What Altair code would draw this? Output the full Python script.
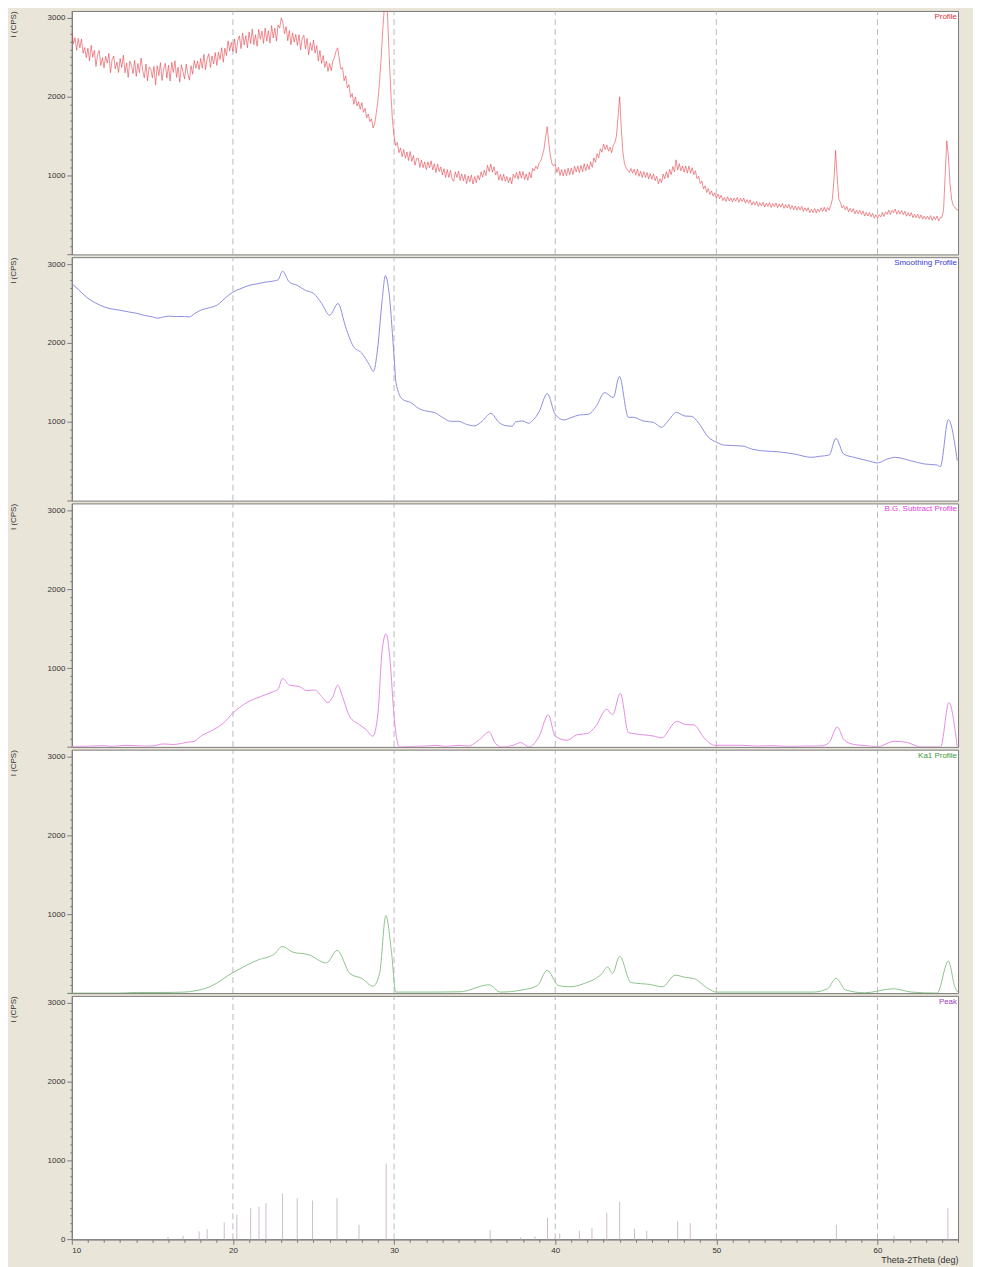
import altair as alt
import pandas as pd

# ---------------- data ----------------
RAW_START = 10.0
RAW_STEP = 0.1
RAW = [
    2835, 2675, 2747, 2588, 2739, 2620, 2731, 2552, 2624, 2495,
    2616, 2454, 2652, 2500, 2587, 2385, 2535, 2586, 2396, 2497,
    2367, 2512, 2426, 2551, 2305, 2470, 2517, 2354, 2441, 2308,
    2485, 2371, 2527, 2303, 2429, 2245, 2451, 2398, 2294, 2461,
    2257, 2422, 2306, 2491, 2335, 2240, 2416, 2202, 2379, 2355,
    2241, 2385, 2150, 2394, 2268, 2432, 2206, 2350, 2423, 2236,
    2400, 2199, 2438, 2307, 2456, 2245, 2375, 2185, 2405, 2315,
    2225, 2413, 2292, 2210, 2393, 2287, 2460, 2361, 2453, 2344,
    2485, 2361, 2537, 2343, 2479, 2545, 2372, 2518, 2415, 2561,
    2398, 2566, 2473, 2621, 2438, 2616, 2522, 2708, 2583, 2689,
    2575, 2734, 2553, 2712, 2771, 2610, 2808, 2656, 2774, 2622,
    2820, 2674, 2858, 2662, 2786, 2640, 2854, 2728, 2833, 2677,
    2871, 2704, 2837, 2680, 2902, 2745, 2870, 2705, 2910, 2870,
    3000, 2940, 2800, 2890, 2711, 2840, 2660, 2810, 2695, 2790,
    2650, 2787, 2595, 2742, 2780, 2607, 2740, 2532, 2684, 2587,
    2719, 2554, 2649, 2453, 2588, 2423, 2523, 2373, 2452, 2322,
    2422, 2330, 2450, 2500, 2580, 2620, 2480, 2350, 2370, 2202,
    2265, 2114, 2153, 1992, 2040, 1904, 1998, 1882, 1936, 1840,
    1924, 1803, 1852, 1732, 1781, 1683, 1720, 1605, 1660, 1800,
    1950, 2200, 2500, 2850, 3150, 3400, 3000, 2500, 2050, 1700,
    1500, 1380, 1420, 1290, 1350, 1240, 1330, 1220, 1300, 1190,
    1305, 1180, 1255, 1130, 1215, 1220, 1103, 1197, 1100, 1173,
    1076, 1173, 1099, 1186, 1072, 1149, 1037, 1144, 1052, 1109,
    1007, 1087, 977, 1076, 976, 1066, 956, 926, 1046, 976,
    1056, 938, 1020, 933, 1015, 898, 994, 920, 1006, 892,
    988, 910, 1003, 945, 1048, 980, 1070, 1000, 1130, 1050,
    1147, 1044, 1111, 1008, 1055, 943, 1014, 935, 1016, 927,
    988, 907, 976, 895, 1020, 968, 1040, 953, 1055, 968,
    1050, 950, 1020, 941, 1046, 970, 1090, 1060, 1120, 1085,
    1160, 1180, 1250, 1330, 1480, 1620, 1420, 1250, 1150, 1120,
    1144, 1040, 1105, 1001, 1077, 993, 1080, 997, 1093, 1010,
    1097, 1013, 1120, 1046, 1122, 1036, 1128, 1049, 1151, 1062,
    1144, 1075, 1175, 1105, 1225, 1169, 1280, 1225, 1340, 1295,
    1400, 1330, 1390, 1310, 1360, 1290, 1380, 1420, 1500, 1750,
    2000, 1600, 1300, 1150, 1100, 1070, 1040, 1090, 1030, 1080,
    1005, 1080, 990, 1055, 975, 1050, 975, 1040, 957, 1025,
    953, 1020, 935, 990, 895, 960, 910, 1020, 960, 1050,
    970, 1080, 1012, 1115, 1047, 1199, 1070, 1150, 1060, 1120,
    1043, 1122, 1031, 1120, 1029, 1100, 1010, 1060, 963, 990,
    900, 930, 830, 870, 785, 835, 760, 805, 740, 780,
    712, 765, 707, 750, 682, 724, 672, 730, 678, 717,
    666, 715, 674, 723, 662, 712, 670, 715, 650, 695,
    648, 691, 624, 670, 627, 673, 610, 656, 613, 662,
    601, 650, 609, 658, 597, 646, 605, 653, 592, 641,
    600, 647, 584, 632, 589, 636, 573, 620, 567, 614,
    561, 607, 563, 609, 545, 591, 547, 593, 529, 573,
    529, 582, 524, 577, 539, 592, 545, 598, 541, 594,
    560, 620, 700, 950, 1320, 980, 700, 660, 590, 620,
    565, 608, 541, 585, 538, 581, 516, 561, 516, 561,
    506, 551, 486, 532, 487, 532, 477, 522, 458, 503,
    458, 506, 474, 533, 481, 539, 508, 562, 506, 560,
    529, 575, 510, 556, 511, 557, 503, 548, 484, 530,
    485, 530, 465, 510, 465, 510, 455, 501, 448, 486,
    445, 484, 443, 492, 431, 480, 439, 488, 425, 470,
    470, 560, 1000, 1440, 1250, 900, 700, 620, 600, 570,
    560,
]

SMOOTH_X = [10.0, 10.5, 11.0, 11.5, 12.0, 12.5, 13.0, 13.5, 14.0, 14.5, 15.0, 15.3, 15.7,
            16.0, 16.5, 17.0, 17.3, 17.6, 18.0, 18.5, 19.0, 19.5, 20.0, 20.5, 21.0, 21.5,
            22.0, 22.5, 22.8, 23.08, 23.5, 24.0, 24.5, 25.0, 25.5, 26.0, 26.52, 26.99,
            27.48, 27.98, 28.47, 28.72, 28.97, 29.26, 29.46, 29.67, 30.0, 30.12, 30.53,
            31.03, 31.52, 32.0, 32.5, 33.0, 33.5, 34.0, 34.49, 34.98, 35.48, 36.01, 36.5,
            37.0, 37.33, 37.54, 37.99, 38.36, 38.57, 38.98, 39.51, 40.0, 40.54, 41.04,
            41.49, 42.03, 42.56, 43.06, 43.61, 43.98, 44.54, 44.85, 45.47, 46.09, 46.6,
            47.0, 47.53, 48.05, 48.46, 48.87, 49.5, 50.0, 50.5, 51.65, 52.2, 52.8, 53.8,
            54.85, 55.9, 56.4, 57.0, 57.42, 57.9, 58.55, 59.4, 60.0, 60.6, 61.1, 62.05,
            62.9, 63.7, 63.9, 64.4, 64.95]
SMOOTH_Y = [2755, 2660, 2566, 2505, 2457, 2430, 2415, 2395, 2377, 2350, 2331, 2314, 2330,
            2340, 2335, 2335, 2330, 2370, 2415, 2445, 2478, 2566, 2645, 2690, 2730, 2750,
            2771, 2785, 2800, 2910, 2771, 2730, 2667, 2629, 2503, 2352, 2500, 2205,
            1954, 1874, 1723, 1639, 1912, 2541, 2855, 2667, 1828, 1497, 1283,
            1245, 1170, 1136, 1119, 1057, 1006, 1006, 968, 948, 1010, 1107, 993,
            948, 944, 998, 1010, 981, 1010, 1119, 1358, 1094, 1023, 1057,
            1086, 1094, 1199, 1371, 1308, 1576, 1057, 1057, 1010, 993, 930,
            1010, 1119, 1073, 1069, 993, 805, 742, 704, 692, 654, 633, 620,
            591, 549, 562, 578, 789, 591, 549, 507, 478, 528, 549, 507,
            465, 452, 431, 1027, 507]

BG_X = [10.0, 11.0, 12.0, 12.5, 13.3, 13.8, 14.5, 15.0, 15.7, 16.3, 17.15, 17.6, 18.0,
        18.8, 19.4, 20.0, 20.86, 21.7, 22.5, 22.8, 23.08, 23.5, 24.15, 24.57, 25.08,
        25.5, 25.9, 26.2, 26.5, 26.8, 27.24, 27.86, 28.27, 28.68, 29.0, 29.26, 29.5,
        29.75, 30.0, 30.33, 31.0, 32.0, 32.6, 33.2, 34.04, 34.6, 35.3, 35.9, 36.3,
        36.7, 37.4, 37.85, 38.37, 39.0, 39.57, 40.0, 40.74, 41.36, 41.98, 42.5, 43.2,
        43.56, 44.04, 44.55, 45.38, 46.2, 46.6, 47.54, 48.16, 48.57, 49.3, 49.9,
        51.56, 52.5, 53.5, 54.44, 55.5, 56.5, 57.0, 57.5, 57.94, 58.56, 59.3, 60.0,
        61.03, 61.86, 62.68, 63.92, 64.43, 64.95]
BG_Y = [5, 8, 15, 5, 20, 16, 10, 12, 37, 30, 58, 70, 134,
        218, 300, 428, 562, 637, 700, 730, 868, 784, 763, 713, 721,
        640, 562, 637, 784, 637, 386, 281, 218, 134, 428, 1225, 1435,
        1100, 386, 0, 5, 10, 20, 5, 20, 10, 92, 190, 40,
        0, 20, 54, 0, 134, 407, 134, 84, 155, 168, 260, 478,
        407, 680, 180, 155, 134, 113, 323, 281, 281, 100, 20,
        20, 10, 15, 5, 10, 12, 54, 252, 84, 30, 15, 0,
        71, 54, 0, 0, 562, 0]

KA1_X = [10.0, 12.9, 14.0, 15.6, 17.0, 17.6, 18.6, 20.0, 21.5, 22.6, 23.05, 23.7, 24.7,
         25.8, 26.47, 27.26, 28.0, 28.7, 29.1, 29.49, 29.85, 30.1, 32.6, 34.1, 35.9,
         36.6, 38.0, 38.9, 39.5, 40.2, 40.9, 41.8, 42.9, 43.25, 43.55, 44.0, 44.7,
         45.9, 46.65, 47.45, 48.1, 48.6, 49.5, 50.0, 56.0, 56.9, 57.44, 58.0, 59.2,
         61.0, 62.1, 63.7, 64.4, 64.8, 65.0]
KA1_Y = [0, 0, 8, 8, 13, 27, 84, 260, 416, 500, 592, 521, 487,
         382, 542, 248, 185, 88, 248, 983, 500, 13, 13, 17, 105,
         13, 42, 96, 290, 96, 80, 122, 248, 332, 248, 466, 134,
         109, 80, 227, 198, 185, 55, 13, 13, 55, 189, 42, 4,
         55, 13, 0, 408, 80, 10]

PEAK_X = [15.97, 16.9, 17.9, 18.4, 19.46, 20.24, 21.1, 21.62, 22.05, 23.08, 23.99, 24.94,
          26.46, 27.82, 29.51, 35.96, 37.85, 38.74, 39.52, 40.28, 41.5, 42.28, 43.2,
          44.0, 44.92, 45.68, 47.6, 48.38, 57.45, 61.03, 64.37]
PEAK_Y = [29, 46, 101, 130, 214, 311, 395, 416, 458, 584, 521, 492,
          521, 185, 962, 122, 25, 38, 277, 72, 109, 143, 340,
          479, 134, 109, 227, 206, 185, 46, 395]

GRID_X = [20, 30, 40, 50, 60]

PANEL_LABELS = ["Profile", "Smoothing Profile", "B.G. Subtract Profile", "Ka1 Profile", "Peak"]
LABEL_COLORS = ["#e0303c", "#3b3bd0", "#e040e0", "#3a9a3a", "#a040c0"]
LINE_COLORS = ["#e5414c", "#8e8ee0", "#e48ce4", "#8cc48c", "#cdbccd"]

X_TITLE = "Theta-2Theta (deg)"
Y_TITLE = "I (CPS)"

# ---------------- layout ----------------
W = 889
H = 244.2
FONT = "Liberation Sans"
GRID_COLOR = "#a8a8a8"

raw_df = pd.DataFrame({"x": [round(RAW_START + RAW_STEP * i, 2) for i in range(len(RAW))], "y": RAW})
smooth_df = pd.DataFrame({"x": SMOOTH_X, "y": SMOOTH_Y})
bg_df = pd.DataFrame({"x": BG_X, "y": BG_Y})
ka1_df = pd.DataFrame({"x": KA1_X, "y": KA1_Y})
peak_df = pd.DataFrame({"x": PEAK_X, "y": PEAK_Y})
grid_df = pd.DataFrame({"x": GRID_X})

x_scale = alt.Scale(domain=[10, 65], nice=False, zero=False)
y_scale = alt.Scale(domain=[0, 3088], nice=False)

grid_y_cond = {"condition": {"test": "datum.value % 1000 === 0 && datum.value > 0", "value": 1}, "value": 0}

X_AXIS_BOTTOM = alt.Axis(
    values=list(range(10, 66)),
    labelExpr="datum.value % 10 === 0 ? datum.label : ''",
    tickSize={"condition": {"test": "datum.value % 10 === 0", "value": 5}, "value": 3},
    grid=False,
    title=X_TITLE, titleAnchor="end", titleFontWeight="normal",
    titleFontSize=9, titlePadding=1, labelPadding=2,
)


def y_axis(bottom):
    if bottom:
        lab = "datum.value % 1000 === 0 ? datum.label : ''"
    else:
        lab = "datum.value % 1000 === 0 && datum.value > 0 ? datum.label : ''"
    return alt.Axis(
        values=list(range(0, 3001, 100)),
        labelExpr=lab, format="d",
        tickSize={"condition": {"test": "datum.value % 1000 === 0", "value": 5},
                  "value": 2},
        gridOpacity=grid_y_cond,
        title=Y_TITLE, titleAnchor="end", titleFontWeight="normal",
        titleFontSize=8, titlePadding=30, labelPadding=2,
    )


def label_layer(i):
    return alt.Chart(pd.DataFrame({"t": [PANEL_LABELS[i]]})).mark_text(
        align="right", baseline="top", fontSize=8, font=FONT, color=LABEL_COLORS[i]
    ).encode(text="t:N", x=alt.value(W - 1), y=alt.value(2))


def grid_layer(xaxis, yaxis):
    return alt.Chart(grid_df).mark_rule(
        color=GRID_COLOR, strokeDash=[6, 4], strokeWidth=0.8
    ).encode(
        x=alt.X("x:Q", scale=x_scale, axis=xaxis),
        y=alt.datum(0, scale=y_scale, axis=yaxis),
        y2=alt.datum(3088),
    )


def line_panel(df, i, width, interp):
    ya = y_axis(False)
    base = alt.Chart(df).mark_line(
        color=LINE_COLORS[i], strokeWidth=width, clip=True, interpolate=interp
    ).encode(
        x=alt.X("x:Q", scale=x_scale, axis=None),
        y=alt.Y("y:Q", scale=y_scale, axis=ya),
    )
    return alt.layer(grid_layer(None, ya), base, label_layer(i)).properties(width=W, height=H)


p1 = line_panel(raw_df, 0, 0.6, "linear")
p2 = line_panel(smooth_df, 1, 1.0, "monotone")
p3 = line_panel(bg_df, 2, 1.0, "monotone")
p4 = line_panel(ka1_df, 3, 1.0, "monotone")

ya5 = y_axis(True)
sticks = alt.Chart(peak_df).mark_rule(color=LINE_COLORS[4], strokeWidth=1).encode(
    x=alt.X("x:Q", scale=x_scale, axis=X_AXIS_BOTTOM),
    y=alt.Y("y:Q", scale=y_scale, axis=ya5),
    y2=alt.datum(0),
)
p5 = alt.layer(grid_layer(X_AXIS_BOTTOM, ya5), sticks, label_layer(4)).properties(width=W, height=H)

chart = alt.vconcat(p1, p2, p3, p4, p5, spacing=0).properties(
    background="#e9e5d8",
    padding={"left": 0, "top": 0, "right": 14, "bottom": 2},
).configure_view(
    stroke="#7a7a7a", strokeWidth=1, fill="white"
).configure_axis(
    labelFont=FONT, labelFontSize=8, labelColor="#333333",
    titleFont=FONT, titleColor="#333333",
    gridColor=GRID_COLOR, gridDash=[6, 4], gridWidth=0.8,
    domainColor="#7a7a7a", tickColor="#7a7a7a",
)

chart.save("out.html", embed_options={"renderer": "svg", "actions": False})
